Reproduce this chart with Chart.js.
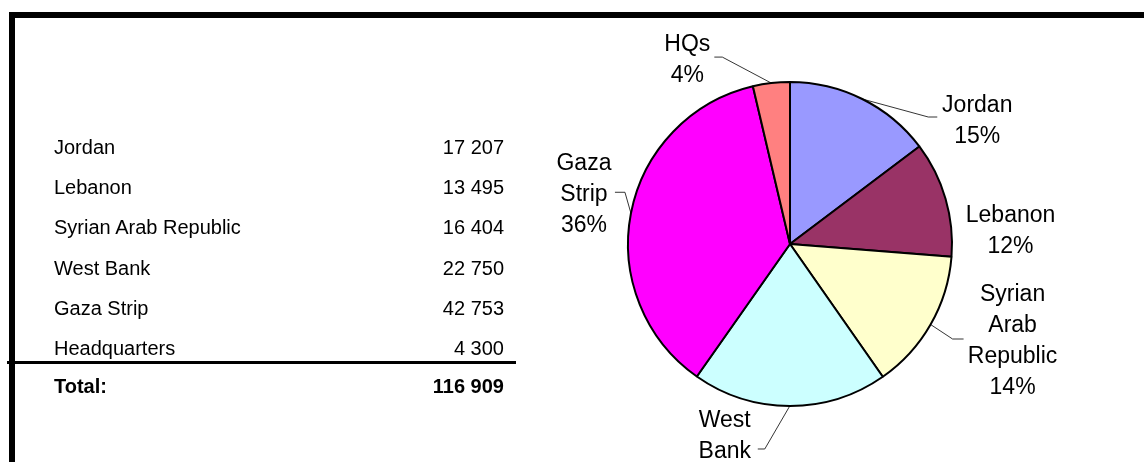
<!DOCTYPE html>
<html>
<head>
<meta charset="utf-8">
<script src="https://cdn.jsdelivr.net/npm/chart.js@4/dist/chart.umd.min.js"></script>
<style>
  body { margin: 0; background: #fff; }
  #wrap { position: relative; width: 1144px; height: 462px; overflow: hidden; background: #fff;
          font-family: "Liberation Sans", Arial, sans-serif; color: #000; }
  #pie { position: absolute; left: 0; top: 0; }
  #frame { position: absolute; left: 9px; top: 12px; width: 1200px; height: 500px;
           border-top: 6px solid #000; border-left: 6px solid #000; }
  .row { position: absolute; left: 54px; width: 450px; height: 24px; line-height: 24px; font-size: 20px; }
  .row .v { position: absolute; right: 0; top: 0; }
  .row.total { font-weight: bold; }
  #rule { position: absolute; left: 7px; top: 361px; width: 509px; height: 3px; background: #000; }
</style>
</head>
<body>
<div id="wrap">
  <canvas id="pie" width="1144" height="462"></canvas>
  <div id="frame"></div>
  <div id="table"></div>
  <div id="rule"></div>
</div>
<script>
// table rows
var regions = ["Jordan", "Lebanon", "Syrian Arab Republic", "West Bank", "Gaza Strip", "Headquarters"];
var staff = [17207, 13495, 16404, 22750, 42753, 4300];
// pie
var pieLabels = [["Jordan"], ["Lebanon"], ["Syrian", "Arab", "Republic"], ["West", "Bank"], ["Gaza", "Strip"], ["HQs"]];
var pctLabels = ["15%", "12%", "14%", "19%", "36%", "4%"];
var sliceColors = ["#9999FF", "#993366", "#FFFFCC", "#CCFFFF", "#FF00FF", "#FF8080"];

function fmt(n) {
  return String(n).replace(/\B(?=(\d{3})+(?!\d))/g, " ");
}

// build the table
var table = document.getElementById("table");
var rowY = [147, 187, 227, 268, 308, 348];
regions.forEach(function (r, i) {
  var d = document.createElement("div");
  d.className = "row";
  d.style.top = (rowY[i] - 12) + "px";
  d.innerHTML = "<span>" + r + "</span><span class='v'>" + fmt(staff[i]) + "</span>";
  table.appendChild(d);
});
var total = staff.reduce(function (a, b) { return a + b; }, 0);
var t = document.createElement("div");
t.className = "row total";
t.style.top = (386 - 12) + "px";
t.innerHTML = "<span>Total:</span><span class='v'>" + fmt(total) + "</span>";
table.appendChild(t);

// label placement relative to the slice's outer mid point, and leader stubs relative to label centre
var labelOffset = [[115, 22.5], [65, 32.5], [82, 16.5], [-65, 46], [-47, -19], [-84, -23]];
var leaderStub = [[-40, -49, -4.5], null, [-49, -60, -2], [33, 40, -3], [31, 41, -2], [27, 35, -3]];

var pieLabelPlugin = {
  id: "pieLabels",
  afterDatasetsDraw: function (chart) {
    var ctx = chart.ctx;
    var arcs = chart.getDatasetMeta(0).data;
    ctx.save();
    ctx.font = '23px "Liberation Sans", Arial, sans-serif';
    ctx.fillStyle = "#000";
    ctx.textAlign = "center";
    ctx.textBaseline = "middle";
    arcs.forEach(function (arc, i) {
      var p = arc.getProps(["x", "y", "startAngle", "endAngle", "outerRadius"], true);
      var mid = (p.startAngle + p.endAngle) / 2;
      var ax = p.x + Math.cos(mid) * p.outerRadius;
      var ay = p.y + Math.sin(mid) * p.outerRadius;
      var cx = ax + labelOffset[i][0];
      var cy = ay + labelOffset[i][1];
      var lines = pieLabels[i].concat([pctLabels[i]]);
      var lh = 31;
      var y0 = cy - (lines.length - 1) * lh / 2;
      lines.forEach(function (s, k) {
        ctx.fillText(s, cx, y0 + k * lh);
      });
      var st = leaderStub[i];
      if (st) {
        ctx.strokeStyle = "#000";
        ctx.lineWidth = 0.8;
        ctx.beginPath();
        ctx.moveTo(cx + st[0], cy + st[2]);
        ctx.lineTo(cx + st[1], cy + st[2]);
        ctx.lineTo(ax, ay);
        ctx.stroke();
      }
    });
    ctx.restore();
  }
};

new Chart(document.getElementById("pie"), {
  type: "pie",
  data: {
    labels: regions,
    datasets: [{
      data: staff,
      backgroundColor: sliceColors,
      borderColor: "#000",
      borderWidth: 2,
      radius: 162
    }]
  },
  options: {
    responsive: false,
    animation: false,
    layout: { padding: { left: 628, right: 192, top: 82, bottom: 56 } },
    plugins: {
      legend: { display: false },
      tooltip: { enabled: false }
    }
  },
  plugins: [pieLabelPlugin]
});
</script>
</body>
</html>
